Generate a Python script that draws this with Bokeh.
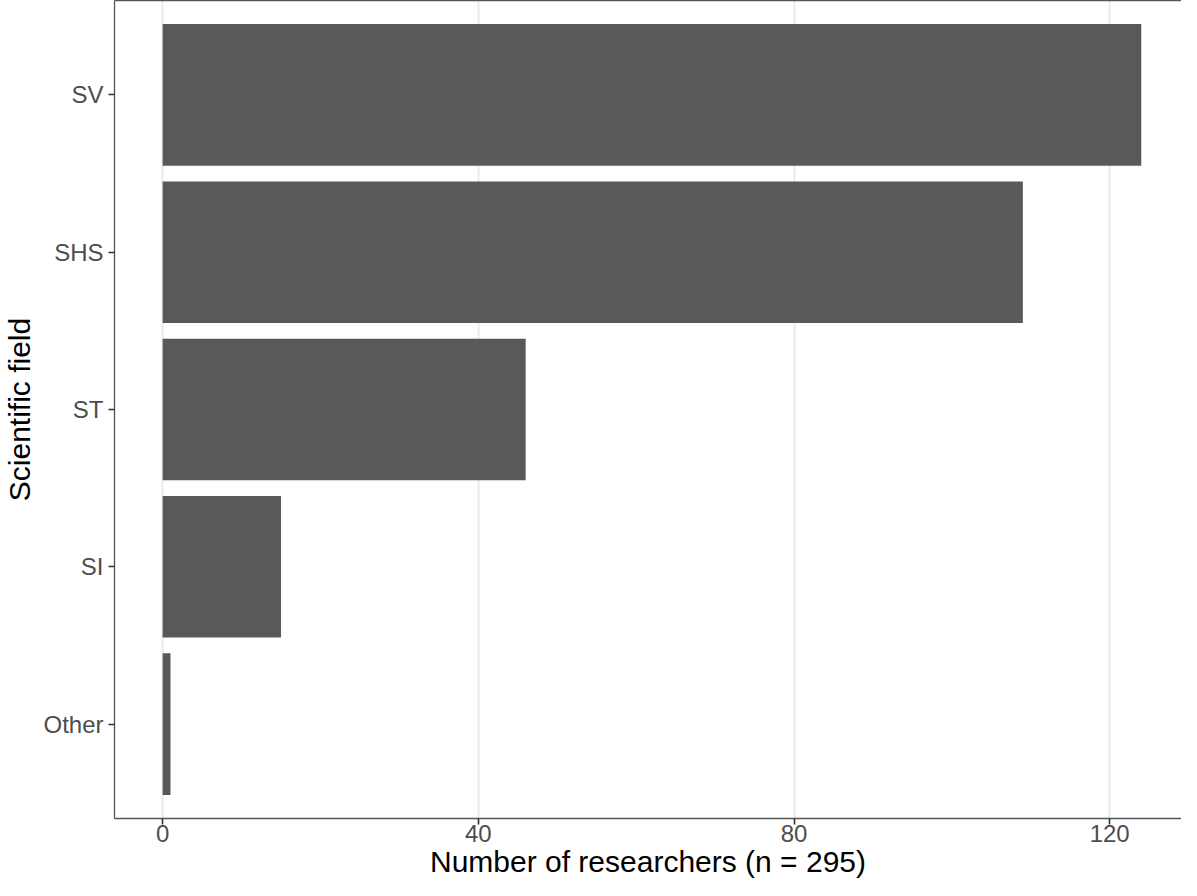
from bokeh.plotting import figure
from bokeh.models import FactorRange, Range1d, FixedTicker, LinearAxis
from bokeh.embed import file_html
from bokeh.resources import INLINE

fields = ["Other", "SI", "ST", "SHS", "SV"]
counts = [1, 15, 46, 109, 124]
x_ticks = [0, 40, 80, 120]

FONT = "Liberation Sans"

p = figure(
    width=1181, height=880,
    y_range=FactorRange(factors=fields, range_padding=0.1, range_padding_units="absolute"),
    x_range=Range1d(-6.1, 129.1),
    output_backend="svg", toolbar_location=None,
    min_border_left=114, min_border_right=0, min_border_top=0, min_border_bottom=0,
    background_fill_color="white", border_fill_color="white",
)
p.outline_line_color = None

p.hbar(y=fields, right=counts, left=0, height=0.9, fill_color="#595959", line_color=None)

# grid
p.xgrid.ticker = FixedTicker(ticks=x_ticks)
p.xgrid.grid_line_color = "#EBEBEB"
p.xgrid.grid_line_width = 2
p.ygrid.grid_line_color = None

# x axis
xa = p.xaxis[0]
xa.ticker = FixedTicker(ticks=x_ticks)
xa.axis_label = "Number of researchers (n = 295)"
for ax in (p.xaxis[0], p.yaxis[0]):
    ax.axis_line_color = "#555555"
    ax.axis_line_width = 1.3
    ax.major_tick_line_color = "#333333"
    ax.major_tick_line_width = 1.6
    ax.major_tick_out = 6
    ax.major_tick_in = 0
    ax.minor_tick_line_color = None
    ax.major_label_text_font = FONT
    ax.major_label_text_font_size = "24px"
    ax.major_label_text_color = "#4D4D4D"
    ax.axis_label_text_font = FONT
    ax.axis_label_text_font_size = "30px"
    ax.axis_label_text_font_style = "normal"
    ax.axis_label_text_color = "#000000"
xa.major_label_standoff = 0
xa.axis_label_standoff = 0

ya = p.yaxis[0]
ya.axis_label = "Scientific field"
ya.major_label_standoff = 5
ya.axis_label_standoff = 4

# top border line
top = LinearAxis(ticker=FixedTicker(ticks=[]), axis_line_color="#555555", axis_line_width=1.3,
                 major_tick_line_color=None, minor_tick_line_color=None,
                 major_tick_out=0, major_tick_in=0, major_label_standoff=0)
p.add_layout(top, "above")

open("out.html", "w").write(file_html(p, INLINE))
